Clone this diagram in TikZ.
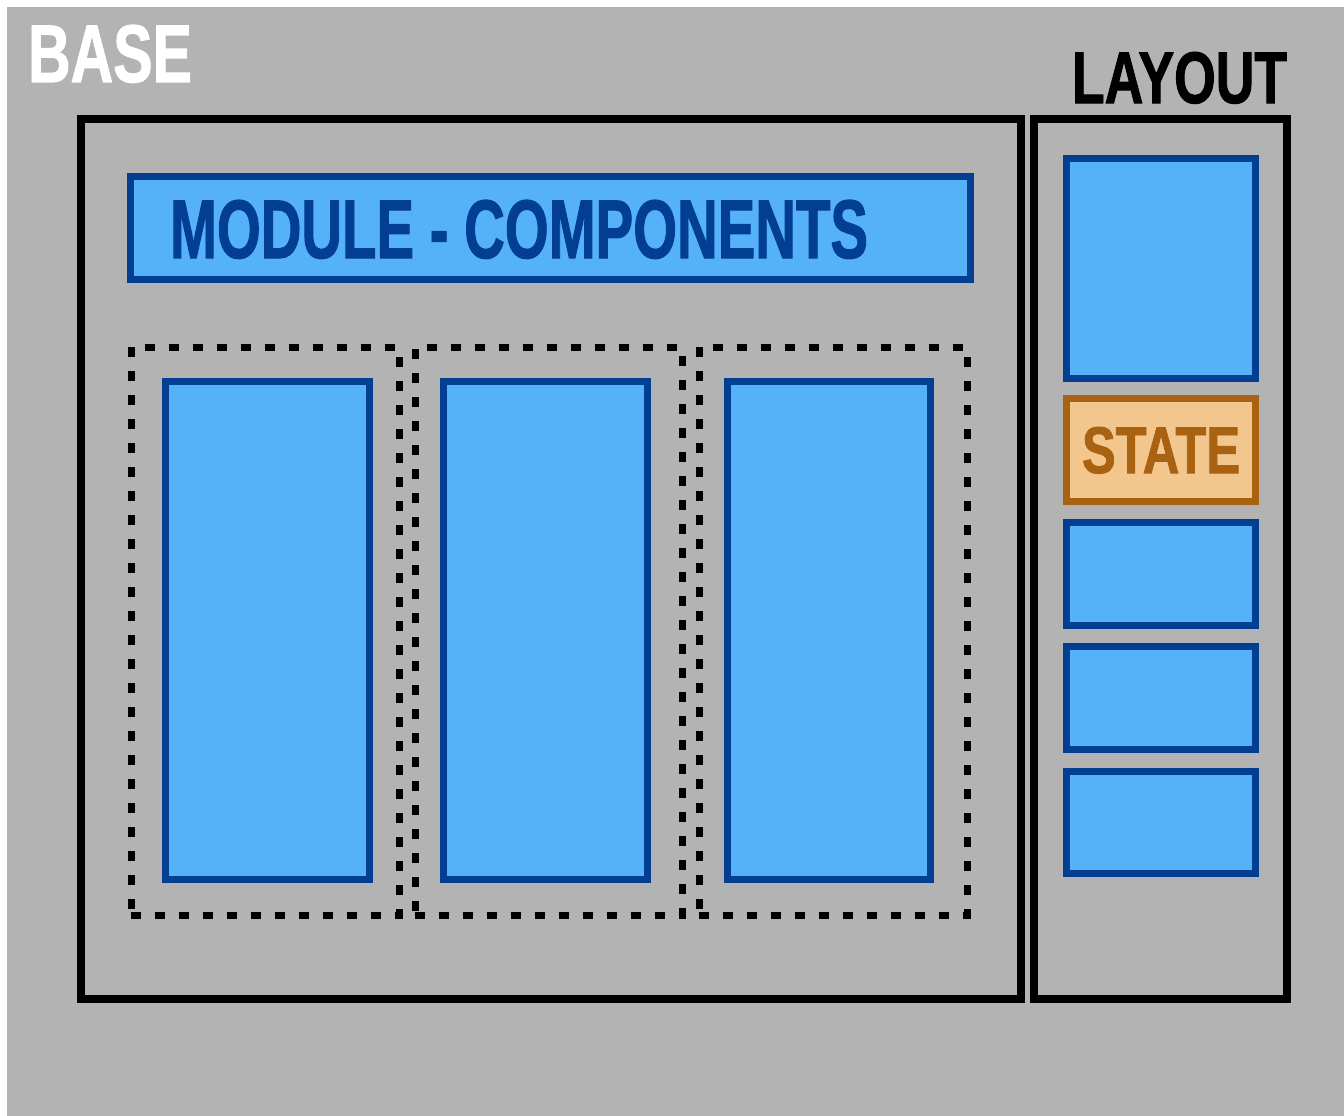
\documentclass[tikz,border=0pt]{standalone}
\usepackage{fontspec}
\setmainfont{Liberation Sans}
\newfontfamily\heavyfont{Liberation Sans}[BoldFeatures={FakeBold=1.5}]
\usepackage{graphicx}
\definecolor{bggray}{HTML}{B3B3B3}
\definecolor{bluefill}{HTML}{56B2F8}
\definecolor{bluedark}{HTML}{023F93}
\definecolor{orfill}{HTML}{F2C68C}
\definecolor{ordark}{HTML}{A86211}
\tikzset{
  frame/.style={draw=black, line width=8pt, inner sep=0, fill=none},
  bluebox/.style={draw=bluedark, fill=bluefill, line width=7pt, inner sep=0},
  statebox/.style={draw=ordark, fill=orfill, line width=7pt, inner sep=0},
  dashbox/.style={draw=black, line width=7pt, dash pattern=on 10pt off 14pt, inner sep=0},
  label/.style={anchor=base west, inner sep=0, outer sep=0, font=\heavyfont\bfseries}
}
\begin{document}
\begin{tikzpicture}[x=1pt,y=-1pt]
\useasboundingbox (0,0) rectangle (1344,1116);
\fill[white] (0,0) rectangle (1344,1116);
\node[fill=bggray, inner sep=0, minimum width=1337pt, minimum height=1109pt, anchor=north west] (bg) at (7,7) {};
% main frames
\node[frame, minimum width=940pt, minimum height=880pt] (main) at (551,559) {};
\node[frame, minimum width=253pt, minimum height=880pt] (layout) at (1160.5,559) {};
% module bar
\node[bluebox, minimum width=840pt, minimum height=103pt] (module) at (550.5,228) {};
% dashed groups
\node[dashbox, minimum width=268pt, minimum height=568pt] (g1) at (265,631) {};
\node[dashbox, minimum width=267pt, minimum height=568pt] (g2) at (548.5,631) {};
\node[dashbox, minimum width=268pt, minimum height=568pt] (g3) at (833,631) {};
% columns
\node[bluebox, minimum width=204pt, minimum height=498pt] (c1) at (267.5,630.5) {};
\node[bluebox, minimum width=204pt, minimum height=498pt] (c2) at (545.5,630.5) {};
\node[bluebox, minimum width=203pt, minimum height=498pt] (c3) at (829,630.5) {};
% right column boxes
\node[bluebox, minimum width=189pt, minimum height=220pt] (r1) at (1161,268.5) {};
\node[statebox, minimum width=189pt, minimum height=103pt] (state) at (1161,450) {};
\node[bluebox, minimum width=189pt, minimum height=103pt] (r3) at (1161,574) {};
\node[bluebox, minimum width=189pt, minimum height=103pt] (r4) at (1161,698) {};
\node[bluebox, minimum width=189pt, minimum height=102pt] (r5) at (1161,822.5) {};
% labels
\node[label, text=white] (tbase) at (28,82) {\resizebox{164pt}{57pt}{BASE}};
\node[label, text=black] (tlayout) at (1072,103) {\resizebox{215pt}{51pt}{LAYOUT}};
\node[label, text=bluedark] (tmodule) at (170,258) {\resizebox{698pt}{58pt}{MODULE - COMPONENTS}};
\node[label, text=ordark] (tstate) at (1082,473) {\resizebox{158pt}{46pt}{STATE}};
\end{tikzpicture}
\end{document}
